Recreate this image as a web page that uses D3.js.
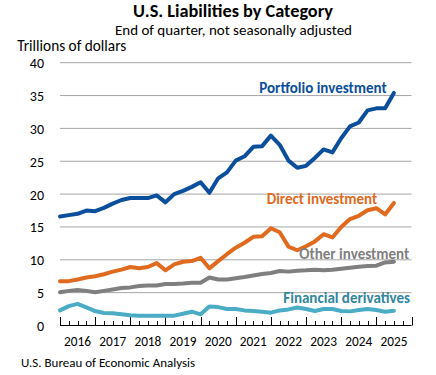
<!DOCTYPE html>
<html>
<head>
<meta charset="utf-8">
<script src="https://cdn.jsdelivr.net/npm/d3@7"></script>
<style>
  html, body { margin: 0; padding: 0; background: #ffffff; }
  svg { display: block; }
  text { font-family: Carlito, Calibri, Lato, "Open Sans", sans-serif; }
</style>
</head>
<body>
<svg id="chart" width="436" height="375"></svg>
<script>
// ---- Data (trillions of dollars, end of quarter) ----
const quarters = ["2015Q4","2016Q1","2016Q2","2016Q3","2016Q4","2017Q1","2017Q2","2017Q3","2017Q4",
  "2018Q1","2018Q2","2018Q3","2018Q4","2019Q1","2019Q2","2019Q3","2019Q4",
  "2020Q1","2020Q2","2020Q3","2020Q4","2021Q1","2021Q2","2021Q3","2021Q4",
  "2022Q1","2022Q2","2022Q3","2022Q4","2023Q1","2023Q2","2023Q3","2023Q4",
  "2024Q1","2024Q2","2024Q3","2024Q4","2025Q1","2025Q2"];
const portfolio = [16.6,16.8,17.0,17.5,17.4,17.9,18.55,19.1,19.4,19.4,19.4,19.8,18.75,20.0,20.5,21.1,21.8,
  20.2,22.4,23.3,25.1,25.75,27.2,27.3,28.9,27.5,25.1,24.0,24.3,25.5,26.8,26.35,28.5,30.3,30.9,32.75,33.05,33.05,35.4];
const direct = [6.75,6.75,7.0,7.3,7.5,7.8,8.2,8.5,8.9,8.7,8.9,9.5,8.4,9.3,9.7,9.8,10.3,
  8.7,9.8,10.85,11.85,12.6,13.5,13.6,14.8,14.2,12.0,11.45,12.05,12.8,13.9,13.4,15.0,16.2,16.7,17.55,17.85,16.9,18.65];
const other = [5.07,5.27,5.4,5.27,5.07,5.27,5.47,5.7,5.8,6.0,6.1,6.1,6.33,6.33,6.4,6.5,6.5,
  7.3,7.0,7.0,7.2,7.37,7.62,7.85,8.0,8.3,8.2,8.35,8.4,8.5,8.4,8.5,8.65,8.8,8.95,9.05,9.1,9.6,9.7];
const derivatives = [2.3,2.95,3.3,2.75,2.2,1.9,1.88,1.7,1.55,1.47,1.47,1.47,1.47,1.5,1.8,2.1,1.7,
  2.9,2.8,2.5,2.5,2.3,2.2,2.1,1.95,2.3,2.45,2.75,2.5,2.2,2.5,2.5,2.2,2.15,2.35,2.5,2.35,2.1,2.25];
const years = ["2016","2017","2018","2019","2020","2021","2022","2023","2024","2025"];
const yTicks = [0,5,10,15,20,25,30,35,40];
const seriesNames = ["Portfolio investment","Direct investment","Other investment","Financial derivatives"];

// ---- Layout ----
const svg = d3.select("#chart");
const plotL = 60, plotR = 411.5, plotT = 62.7, plotB = 325.5;
const nSlots = years.length * 4;
const x = d3.scaleLinear().domain([0, nSlots]).range([plotL, plotR]);
const y = d3.scaleLinear().domain([0, 40]).range([plotB, plotT]);

function fit(sel, w) {
  const node = sel.node();
  const fs = parseFloat(sel.style("font-size"));
  const cur = node.getComputedTextLength();
  if (cur > 0) sel.style("font-size", (fs * w / cur).toFixed(2) + "px");
  return sel;
}

// gridlines
svg.append("g").selectAll("line").data(yTicks.filter(d => d > 0)).join("line")
  .attr("x1", plotL).attr("x2", plotR)
  .attr("y1", d => y(d)).attr("y2", d => y(d))
  .attr("stroke", "#a6a6a6").attr("stroke-width", 1);

// y axis labels
const yAxis = d3.axisLeft(y).tickValues(yTicks).tickSize(0).tickPadding(0);
const gy = svg.append("g").attr("transform", "translate(44,0)").call(yAxis);
gy.select(".domain").remove();
gy.selectAll("text").style("font-size", "14px").attr("fill", "#000").attr("dy", "0.36em");

// x axis: line + ticks pointing up
const tickIdx = d3.range(0, nSlots + 1);
const gx = svg.append("g");
gx.append("line").attr("x1", plotL).attr("x2", plotR).attr("y1", plotB).attr("y2", plotB)
  .attr("stroke", "#000").attr("stroke-width", 1);
gx.selectAll("line.t").data(tickIdx).join("line").attr("class", "t")
  .attr("x1", d => Math.round(x(d)) + 0.5).attr("x2", d => Math.round(x(d)) + 0.5)
  .attr("y1", plotB).attr("y2", d => d % 4 === 0 ? plotB - 8.5 : plotB - 4.5)
  .attr("stroke", "#000").attr("stroke-width", 1);
gx.selectAll("text").data(years).join("text")
  .attr("x", (d, i) => x(i * 4 + 2)).attr("y", 346)
  .attr("text-anchor", "middle").style("font-size", "13.3px").attr("fill", "#000")
  .text(d => d);

// series lines
const series = [
  { name: seriesNames[0], values: portfolio, color: "#0b4f9c", text: "#0b4f9c", lx: 259.3, ly: 93.3, lw: 127.4 },
  { name: seriesNames[1], values: direct, color: "#e06a1e", text: "#e06a1e", lx: 266.7, ly: 204, lw: 110.6 },
  { name: seriesNames[2], values: other, color: "#7f7f7f", text: "#7f7f7f", lx: 299.3, ly: 258.7, lw: 110 },
  { name: seriesNames[3], values: derivatives, color: "#4bacc6", text: "#31859c", lx: 283.3, ly: 302.7, lw: 126.7 }
];
const line = d3.line().x((d, i) => x(i)).y(d => y(d)).curve(d3.curveLinear);
series.slice().reverse().forEach(s => {
  svg.append("path").datum(s.values).attr("d", line)
    .attr("fill", "none").attr("stroke", s.color).attr("stroke-width", 4)
    .attr("stroke-linejoin", "round").attr("stroke-linecap", "round");
});
series.forEach(s => {
  const t = svg.append("text").attr("x", s.lx).attr("y", s.ly)
    .style("font-size", "14px").style("font-weight", "bold").attr("fill", s.text).text(s.name);
  fit(t, s.lw);
});

// titles
fit(svg.append("text").attr("x", 233).attr("y", 17).attr("text-anchor", "middle")
  .style("font-size", "16px").style("font-weight", "bold").attr("fill", "#000")
  .text("U.S. Liabilities by Category"), 200);
fit(svg.append("text").attr("x", 233.5).attr("y", 35).attr("text-anchor", "middle")
  .style("font-size", "13px").attr("fill", "#000")
  .text("End of quarter, not seasonally adjusted"), 237);
fit(svg.append("text").attr("x", 17.3).attr("y", 51)
  .style("font-size", "13px").attr("fill", "#000")
  .text("Trillions of dollars"), 109);
fit(svg.append("text").attr("x", 21).attr("y", 366.5)
  .style("font-size", "12px").attr("fill", "#000")
  .text("U.S. Bureau of Economic Analysis"), 174);
</script>
</body>
</html>
